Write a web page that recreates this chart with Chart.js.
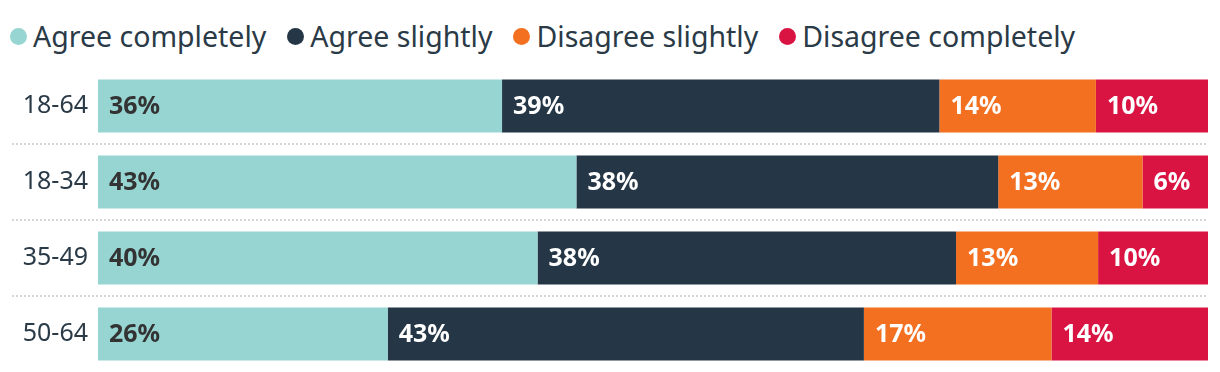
<!DOCTYPE html>
<html>
<head>
<meta charset="utf-8">
<script src="https://cdn.jsdelivr.net/npm/chart.js@4"></script>
<style>
  html, body { margin: 0; padding: 0; background: #fff; }
  #legend {
    height: 68px; box-sizing: border-box; padding: 18px 0 0 10px;
    display: flex; align-items: flex-start;
    font-family: 'Noto Sans', 'Open Sans', sans-serif; font-size: 28.5px;
    color: #2a3a47; line-height: 36px;
  }
  #legend .item { display: flex; align-items: center; margin-right: 21px; height: 36px; }
  #legend .dot { width: 17px; height: 17px; border-radius: 50%; margin-right: 6px; }
  #wrap { width: 1220px; height: 304px; position: relative; }
</style>
</head>
<body>
<div id="legend"></div>
<div id="wrap"><canvas id="myChart"></canvas></div>
<script>
"use strict";

// age groups
var categories = ["18-64", "18-34", "35-49", "50-64"];
var seriesNames = ["Agree completely", "Agree slightly", "Disagree slightly", "Disagree completely"];
var agreeCompletely = [36.4, 43.1, 39.6, 26.1];
var agreeSlightly = [39.4, 38.0, 37.7, 42.9];
var disagreeSlightly = [14.1, 13.0, 12.8, 16.9];
var disagreeCompletely = [10.1, 5.9, 9.9, 14.1];
var colors = ["#96d5d2", "#253746", "#f37021", "#d91443"];
var labelColors = ["#333333", "#ffffff", "#ffffff", "#ffffff"];

var textColor = "#2a3a47";
var fontFamily = "'Noto Sans', 'Open Sans', sans-serif";

// dotted separators between the rows, running out under the labels
var rowLines = {
    id: "rowLines",
    beforeDatasetsDraw: function (chart) {
        var y = chart.scales.y;
        var ctx = chart.ctx;
        ctx.save();
        ctx.strokeStyle = "#d6d6d6";
        ctx.lineWidth = 2;
        ctx.setLineDash([2, 2]);
        for (var i = 1; i < categories.length; i++) {
            var py = Math.round((y.getPixelForValue(i - 1) + y.getPixelForValue(i)) / 2);
            ctx.beginPath();
            ctx.moveTo(12, py);
            ctx.lineTo(chart.chartArea.right, py);
            ctx.stroke();
        }
        ctx.restore();
    }
};

// percentage labels at the start of each segment
var barLabels = {
    id: "barLabels",
    afterDatasetsDraw: function (chart) {
        var ctx = chart.ctx;
        ctx.save();
        ctx.font = "bold 25px " + fontFamily;
        ctx.textBaseline = "middle";
        ctx.textAlign = "left";
        chart.data.datasets.forEach(function (ds, di) {
            var meta = chart.getDatasetMeta(di);
            ctx.fillStyle = labelColors[di];
            meta.data.forEach(function (bar, i) {
                var start = Math.min(bar.x, bar.base);
                ctx.fillText(Math.round(ds.data[i]) + "%", start + 11, bar.y + 1);
            });
        });
        ctx.restore();
    }
};

// html legend built from the datasets
var htmlLegend = {
    id: "htmlLegend",
    afterUpdate: function (chart) {
        var box = document.getElementById("legend");
        box.innerHTML = "";
        chart.data.datasets.forEach(function (ds) {
            var item = document.createElement("span");
            item.className = "item";
            var dot = document.createElement("span");
            dot.className = "dot";
            dot.style.background = ds.backgroundColor;
            var txt = document.createElement("span");
            txt.textContent = ds.label;
            item.appendChild(dot);
            item.appendChild(txt);
            box.appendChild(item);
        });
    }
};

var ctx = document.getElementById("myChart").getContext("2d");
var chart = new Chart(ctx, {
    type: "bar",
    data: {
        labels: categories,
        datasets: [agreeCompletely, agreeSlightly, disagreeSlightly, disagreeCompletely].map(function (vals, i) {
            return {
                label: seriesNames[i],
                data: vals,
                backgroundColor: colors[i],
                borderWidth: 0,
                barPercentage: 0.7,
                categoryPercentage: 1
            };
        })
    },
    options: {
        indexAxis: "y",
        responsive: true,
        maintainAspectRatio: false,
        animation: false,
        layout: { padding: { left: 10, right: 12, top: 0, bottom: 0 } },
        plugins: {
            legend: { display: false },
            tooltip: { enabled: false }
        },
        scales: {
            x: {
                stacked: true,
                display: false,
                ticks: { display: false },
                min: 0,
                max: 100
            },
            y: {
                stacked: true,
                grid: { display: false, drawTicks: false },
                border: { display: false },
                afterFit: function (scale) {
                    scale.width = 88;
                    scale.paddingTop = 0;
                    scale.paddingBottom = 0;
                },
                ticks: {
                    color: textColor,
                    padding: 10,
                    font: { family: fontFamily, size: 25 }
                }
            }
        }
    },
    plugins: [rowLines, barLabels, htmlLegend]
});
</script>
</body>
</html>
